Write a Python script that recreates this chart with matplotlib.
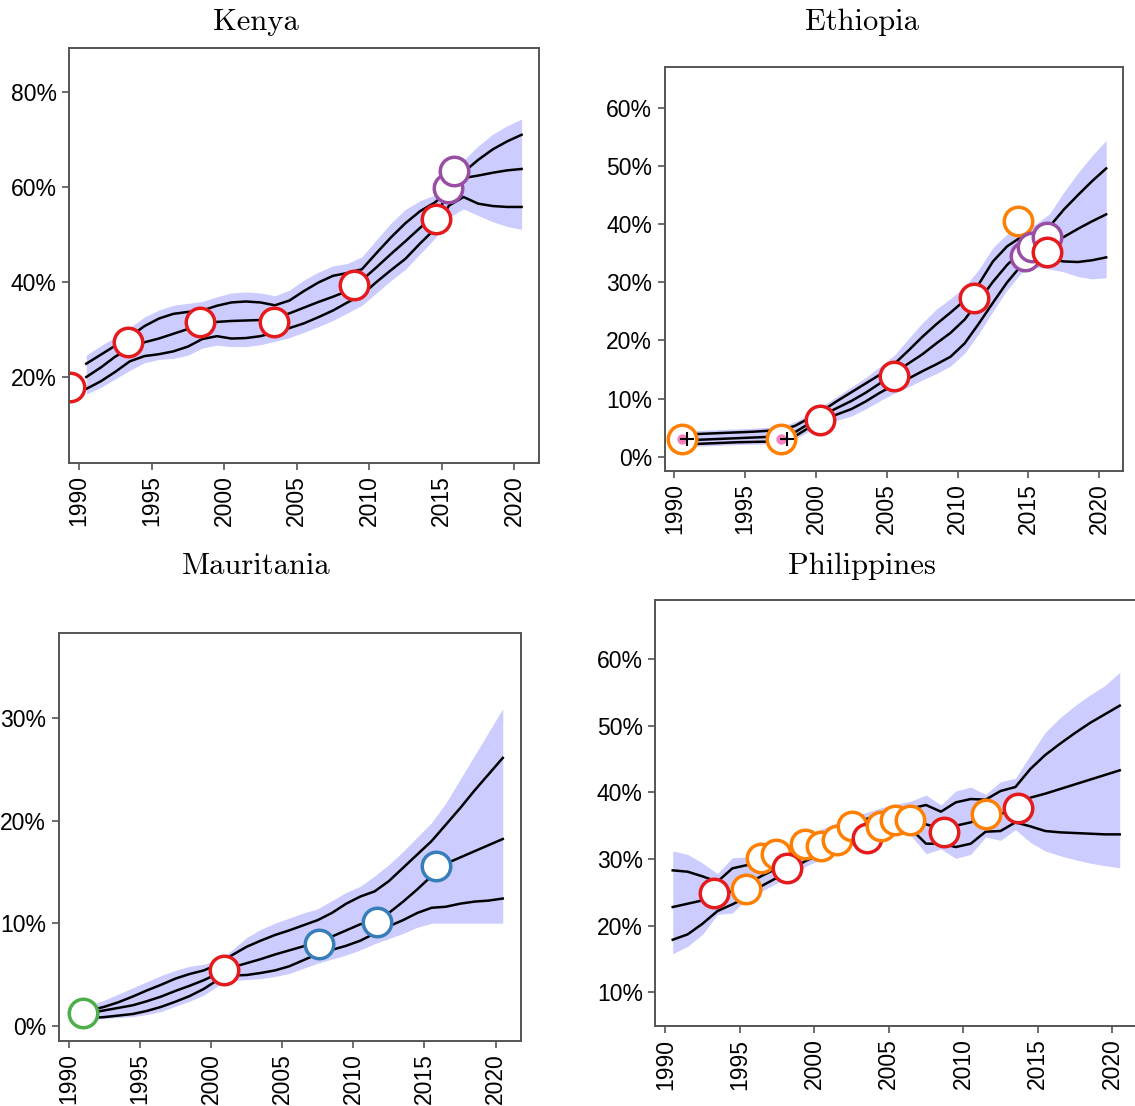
import matplotlib
matplotlib.use("Agg")
import matplotlib.pyplot as plt
import numpy as np

years = np.arange(1990.5, 2021.0, 1.0)

# ---- Kenya ----
ken_up = [22.7, 24.6, 26.5, 28.4, 30.6, 32.2, 33.2, 33.6, 33.9, 34.9, 35.6, 35.8, 35.6, 35.0, 36.0,
          38.0, 39.8, 41.2, 41.8, 42.6, 46.0, 49.3, 52.3, 54.8, 56.6, 59.0, 63.0, 65.6, 67.8, 69.5, 70.9]
ken_med = [19.9, 21.9, 24.2, 26.0, 27.2, 28.0, 29.0, 30.0, 31.0, 31.5, 31.7, 31.8, 31.9, 32.3, 33.3,
           34.5, 35.7, 36.8, 38.0, 40.3, 43.0, 45.8, 48.5, 51.3, 53.8, 58.5, 61.8, 62.3, 62.9, 63.4, 63.7]
ken_lo = [17.4, 19.0, 21.0, 23.2, 24.3, 24.7, 25.3, 26.3, 27.9, 28.5, 28.0, 28.1, 28.5, 29.3, 30.2,
          31.2, 32.5, 33.9, 35.6, 37.2, 39.9, 42.4, 44.8, 48.0, 51.0, 56.0, 57.8, 56.4, 55.9, 55.7, 55.7]
ken_band_up = [24.5, 26.5, 28.3, 30.3, 32.5, 34.0, 35.0, 35.4, 35.8, 36.8, 37.6, 37.8, 37.6, 37.0, 38.2,
               40.3, 42.0, 43.3, 43.8, 45.2, 48.8, 52.3, 55.2, 57.0, 58.2, 61.0, 65.5, 68.5, 71.0, 72.8, 74.2]
ken_band_lo = [16.3, 17.7, 19.5, 21.3, 22.9, 23.6, 23.8, 24.5, 26.0, 26.6, 26.3, 26.3, 26.7, 27.4, 28.2,
               29.3, 30.5, 31.8, 33.4, 35.0, 37.6, 40.2, 42.6, 45.8, 49.0, 53.5, 55.3, 53.9, 52.6, 51.6, 51.0]
ken_obs_x = [1989.35, 1993.4, 1998.35, 2003.45, 2008.95, 2014.6, 2015.45, 2015.85]
ken_obs_y = [17.8, 27.2, 31.4, 31.4, 39.3, 53.1, 59.7, 63.2]
ken_obs_c = ["red", "red", "red", "red", "red", "red", "purple", "purple"]

# ---- Ethiopia ----
eth_up = [3.7, 3.9, 4.0, 4.1, 4.2, 4.3, 4.45, 4.6, 5.3, 6.6, 8.0, 9.6, 11.1, 12.6, 14.1,
          15.9, 18.2, 20.6, 22.8, 24.8, 26.9, 29.7, 33.6, 36.2, 37.8, 38.6, 39.6, 42.5, 45.0, 47.4, 49.6]
eth_med = [2.8, 2.9, 3.0, 3.1, 3.2, 3.3, 3.4, 3.5, 4.2, 5.7, 7.2, 8.4, 9.6, 11.0, 12.6,
           14.3, 16.0, 17.6, 19.5, 21.3, 23.6, 26.8, 30.1, 33.0, 35.3, 36.5, 37.2, 37.8, 39.2, 40.5, 41.7]
eth_lo = [2.1, 2.2, 2.3, 2.4, 2.5, 2.55, 2.6, 2.7, 3.5, 5.0, 6.3, 7.3, 8.2, 9.5, 11.0,
          12.3, 13.4, 14.7, 15.9, 17.2, 19.5, 22.9, 26.5, 30.0, 32.9, 34.1, 34.0, 33.6, 33.5, 33.8, 34.3]
eth_band_up = [4.3, 4.5, 4.6, 4.7, 4.8, 4.9, 5.05, 5.2, 6.0, 7.3, 8.8, 10.4, 12.0, 13.6, 15.5,
               17.4, 20.2, 23.0, 25.4, 27.2, 29.3, 32.2, 36.0, 38.3, 39.3, 40.0, 41.8, 45.5, 48.8, 51.8, 54.4]
eth_band_lo = [1.7, 1.8, 1.9, 2.0, 2.1, 2.15, 2.2, 2.3, 3.0, 4.4, 5.5, 6.3, 7.0, 8.2, 9.6,
               10.9, 12.0, 13.2, 14.3, 15.6, 17.8, 21.2, 25.0, 28.7, 31.6, 32.6, 32.3, 31.8, 31.0, 30.6, 30.8]
eth_obs_x = [1990.5, 1997.5, 2000.25, 2005.5, 2011.15, 2014.25, 2014.75, 2015.25, 2016.3, 2016.3]
eth_obs_y = [3.0, 3.0, 6.4, 13.9, 27.3, 40.5, 34.5, 36.1, 37.8, 35.2]
eth_obs_c = ["orange", "orange", "red", "red", "red", "orange", "purple", "purple", "purple", "red"]
eth_dot_x = [1990.5, 1997.5]
eth_dot_y = [3.0, 3.0]
eth_plus_x = [1990.9, 1997.95]
eth_plus_y = [3.0, 3.0]

# ---- Mauritania ----
mau_up = [1.3, 1.5, 1.85, 2.3, 2.85, 3.45, 4.0, 4.6, 5.05, 5.4, 6.0, 6.9, 7.7, 8.3, 8.85,
          9.3, 9.8, 10.3, 11.0, 11.9, 12.6, 13.1, 14.1, 15.4, 16.7, 18.0, 19.6, 21.2, 22.9, 24.5, 26.1]
mau_med = [1.1, 1.25, 1.5, 1.75, 2.0, 2.4, 2.85, 3.4, 3.9, 4.45, 5.1, 5.7, 6.1, 6.5, 6.95,
           7.35, 7.75, 8.2, 8.7, 9.3, 9.9, 10.0, 11.0, 12.1, 13.3, 14.6, 15.8, 16.4, 17.0, 17.6, 18.2]
mau_lo = [0.7, 0.75, 0.85, 1.0, 1.15, 1.45, 1.85, 2.35, 2.9, 3.6, 4.5, 4.9, 4.95, 5.15, 5.4,
          5.8, 6.4, 7.0, 7.4, 7.8, 8.3, 9.0, 9.7, 10.3, 11.0, 11.5, 11.6, 11.9, 12.1, 12.2, 12.4]
mau_band_up = [1.7, 2.0, 2.5, 3.1, 3.7, 4.3, 4.9, 5.4, 5.8, 6.0, 6.4, 7.4, 8.6, 9.4, 10.0,
               10.5, 11.0, 11.4, 12.2, 13.0, 13.6, 14.6, 15.7, 17.0, 18.4, 19.8, 21.7, 24.0, 26.3, 28.6, 30.9]
mau_band_lo = [0.55, 0.6, 0.7, 0.8, 0.9, 1.1, 1.4, 1.9, 2.4, 3.0, 3.9, 4.4, 4.5, 4.6, 4.8,
               5.1, 5.6, 6.1, 6.5, 6.9, 7.4, 8.0, 8.5, 9.0, 9.6, 10.0, 10.0, 10.0, 10.0, 10.0, 10.0]
mau_obs_x = [1991.0, 2000.9, 2007.6, 2011.65, 2015.8]
mau_obs_y = [1.2, 5.4, 8.0, 10.1, 15.6]
mau_obs_c = ["green", "red", "blue", "blue", "blue"]

# ---- Philippines ----
phl_up = [28.3, 28.1, 27.4, 26.6, 28.6, 29.1, 29.7, 30.4, 31.4, 32.6, 33.5, 34.4, 35.3, 36.0, 36.7,
          37.2, 37.6, 38.1, 37.1, 38.5, 39.0, 38.9, 40.2, 40.8, 43.5, 45.6, 47.3, 48.9, 50.4, 51.7, 53.0]
phl_med = [22.8, 23.3, 23.8, 24.5, 25.2, 26.3, 27.5, 28.6, 29.8, 31.0, 32.0, 33.0, 34.0, 34.8, 35.5,
           36.0, 36.0, 35.2, 34.6, 35.0, 35.5, 36.5, 36.8, 37.3, 39.2, 39.8, 40.5, 41.2, 41.9, 42.6, 43.3]
phl_lo = [17.9, 18.7, 20.3, 22.2, 23.2, 24.3, 26.0, 27.2, 28.6, 29.8, 30.8, 31.8, 32.8, 33.6, 34.3,
          34.8, 34.5, 32.3, 32.3, 31.8, 32.3, 34.1, 34.2, 35.5, 34.9, 34.2, 34.0, 33.9, 33.8, 33.7, 33.7]
phl_band_up = [31.2, 30.7, 29.4, 27.8, 30.2, 30.3, 30.8, 31.4, 32.4, 33.6, 34.5, 35.4, 36.3, 37.0, 37.7,
               38.2, 38.7, 39.6, 38.1, 40.2, 40.8, 39.7, 41.6, 42.1, 45.6, 49.0, 51.2, 53.0, 54.6, 56.0, 58.0]
phl_band_lo = [15.8, 16.9, 18.7, 21.7, 21.9, 24.1, 25.2, 26.4, 27.8, 29.0, 30.0, 31.0, 32.0, 32.8, 33.5,
               33.9, 33.5, 30.8, 31.5, 30.1, 30.7, 33.3, 32.8, 34.4, 32.5, 31.2, 30.5, 29.9, 29.4, 29.0, 28.7]
phl_obs_x = [1993.25, 1995.45, 1996.45, 1997.45, 1998.15, 1999.4, 2000.45, 2001.5, 2002.5, 2003.55,
             2004.45, 2005.45, 2006.45, 2008.7, 2011.55, 2013.65]
phl_obs_y = [24.85, 25.5, 30.2, 30.8, 28.7, 32.3, 32.0, 32.8, 35.0, 33.2,
             35.0, 35.9, 35.8, 34.0, 36.8, 37.6]
phl_obs_c = ["red", "orange", "orange", "orange", "red", "orange", "orange", "orange", "orange", "red",
             "orange", "orange", "orange", "red", "orange", "red"]

colors = {"red": "#e41a1c", "orange": "#ff7f00", "purple": "#984ea3",
          "blue": "#377eb8", "green": "#4daf4a"}

W, H = 1135, 1106
fig = plt.figure(figsize=(W / 100, H / 100), dpi=100)


def panel(box, xlim, ylim, yticks, up, med, lo, bup, blo, ox, oy, oc):
    l, t, r, b = box
    ax = fig.add_axes([l / W, 1 - b / H, (r - l) / W, (b - t) / H])
    ax.fill_between(years, blo, bup, color="#ccccff", lw=0)
    for s in (up, med, lo):
        ax.plot(years, s, color="black", lw=1.8)
    for x, y, c in zip(ox, oy, oc):
        ax.plot(x, y, "o", ms=20.5, mfc="white", mec=colors[c], mew=2.5)
    ax.set_xlim(*xlim)
    ax.set_ylim(*ylim)
    ax.set_xticks(range(1990, 2021, 5))
    ax.set_xticklabels([str(v) for v in range(1990, 2021, 5)], rotation=90)
    ax.set_yticks(yticks)
    ax.set_yticklabels([f"{v}%" for v in yticks])
    for lab in ax.get_xticklabels() + ax.get_yticklabels():
        lab.set_family("Liberation Sans")
        lab.set_fontsize(16.5)
    ax.tick_params(direction="out", length=5, width=1.2, color="#555555", pad=4)
    for sp in ax.spines.values():
        sp.set_color("#555555")
        sp.set_linewidth(1.4)
    return ax


panel((69.3, 48.3, 538.7, 463), (1989.33, 2021.68), (1.8, 89.1), [20, 40, 60, 80],
      ken_up, ken_med, ken_lo, ken_band_up, ken_band_lo, ken_obs_x, ken_obs_y, ken_obs_c)
ax_eth = panel((664.7, 66.7, 1123.3, 470.7), (1989.31, 2021.71), (-2.4, 67.1), [0, 10, 20, 30, 40, 50, 60],
               eth_up, eth_med, eth_lo, eth_band_up, eth_band_lo, eth_obs_x, eth_obs_y, eth_obs_c)
ax_eth.plot(eth_dot_x, eth_dot_y, "o", ms=7.5, color="#f781bf", mec="none")
ax_eth.plot(eth_plus_x, eth_plus_y, "+", ms=10, color="black", mew=1.5)
panel((58.7, 633, 520.7, 1040.7), (1989.30, 2021.76), (-1.45, 38.27), [0, 10, 20, 30],
      mau_up, mau_med, mau_lo, mau_band_up, mau_band_lo, mau_obs_x, mau_obs_y, mau_obs_c)
panel((655.3, 600.3, 1137.6, 1026), (1989.33, 2021.7), (4.96, 68.8), [10, 20, 30, 40, 50, 60],
      phl_up, phl_med, phl_lo, phl_band_up, phl_band_lo, phl_obs_x, phl_obs_y, phl_obs_c)

titles = [("Kenya", 256, 22), ("Ethiopia", 862, 22), ("Mauritania", 256, 566), ("Philippines", 862, 566)]
for name, x, y in titles:
    fig.text(x / W, 1 - y / H, name, family="cmr10", fontsize=22, ha="center", va="center")

fig.savefig("out.png", dpi=100)
